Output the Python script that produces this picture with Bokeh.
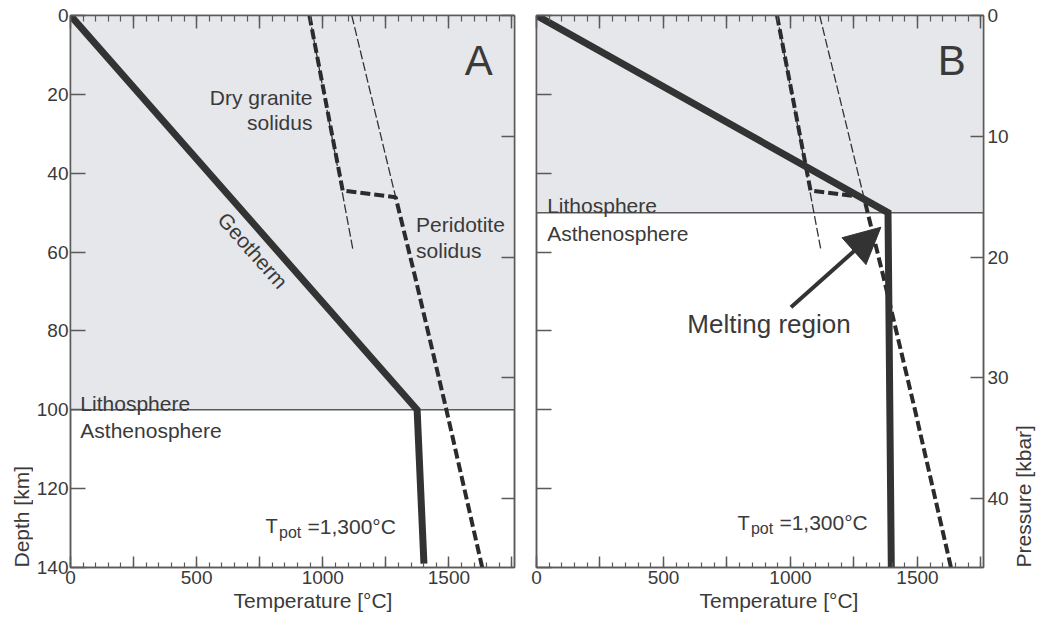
import math
from bokeh.plotting import figure
from bokeh.models import (Range1d, LinearAxis, FixedTicker, Label, Arrow, NormalHead, Title,
                          CustomLabelingPolicy)
from bokeh.layouts import row
from bokeh.embed import file_html
from bokeh.resources import INLINE

# ---------------- data ----------------
T_MAX = 1760          # temperature axis max [deg C]
Z_MAX = 140           # depth axis max [km]
P_MAX = 45.7          # pressure at Z_MAX [kbar]

temp_ticks = [0, 250, 500, 750, 1000, 1250, 1500, 1750]
temp_tick_labels = ["0", "", "500", "", "1000", "", "1500", ""]
temp_minor_ticks = list(range(0, 1751, 50))
depth_ticks = [0, 20, 40, 60, 80, 100, 120, 140]
pressure_ticks = [0, 10, 20, 30, 40]

lith_A = 100          # lithosphere base, panel A [km]
lith_B = 50           # lithosphere base, panel B [km]

geo_A_T = [0, 1374, 1401]
geo_A_z = [0, 100, 139]
geo_B_T = [0, 1384, 1397]
geo_B_z = [0, 50, 140]

# dry granite solidus -> step -> peridotite solidus (thick dashed)
solidus_T = [947, 1079, 1289, 1365, 1490, 1632]
solidus_z = [0, 44.4, 46.1, 66, 100, 140]
# thin continuations
granite_thin_T = [947, 1119]
granite_thin_z = [0, 59.2]
perid_thin_T = [1115, 1289]
perid_thin_z = [0, 46.1]

# melting-region arrow (tail -> tip)
arrow_T = [1002, 1356]
arrow_z = [74.0, 53.7]

# ---------------- style ----------------
FONT = "Liberation Sans"
DARK = "#333333"
AX = "#5a5a5a"
TXT = "#3a3a3a"
SHADE = "#e6e7eb"
H = 620
B_TOP = 15
B_BOT = 53

HIDE_ALL = "return new Set()"
KEEP_EVEN = """
const r = new Set()
for (const i of indices) { if (i % 2 == 0) r.add(i) }
return r
"""


def style_axis(ax, tick_in, minor_in, show_labels, standoff=4, policy=None):
    ax.axis_line_color = AX
    ax.axis_line_width = 1.5
    ax.major_tick_line_color = AX
    ax.major_tick_line_width = 1.5
    ax.major_tick_in = tick_in
    ax.major_tick_out = 0
    ax.minor_tick_in = minor_in
    ax.minor_tick_out = 0
    ax.minor_tick_line_color = AX if minor_in else None
    ax.minor_tick_line_width = 1.2
    ax.major_label_text_font = FONT
    ax.major_label_text_color = TXT
    if show_labels:
        ax.major_label_text_font_size = "19px"
        ax.major_label_standoff = standoff
        if policy:
            ax.major_label_policy = CustomLabelingPolicy(code=policy)
    else:
        ax.major_label_text_font_size = "0px"
        ax.major_label_standoff = 0
        ax.major_label_policy = CustomLabelingPolicy(code=HIDE_ALL)


def lab(p, x, y, text, size="21px", align="left", baseline="alphabetic",
        angle=0.0, xo=0, yo=0):
    p.add_layout(Label(x=x, y=y, text=text, text_font=FONT, text_font_size=size,
                       text_color=TXT, text_align=align, text_baseline=baseline,
                       angle=angle, x_offset=xo, y_offset=yo))


def make_panel(width, bl, br, geo_T, geo_z, lith, letter, letter_x, left_labels, right_labels):
    p = figure(width=width, height=H, x_range=Range1d(0, T_MAX), y_range=Range1d(Z_MAX, 0),
               output_backend="svg", toolbar_location=None,
               x_axis_location=None, y_axis_location=None,
               min_border_left=bl, min_border_right=br, min_border_top=B_TOP,
               min_border_bottom=B_BOT)
    p.extra_y_ranges = {"p": Range1d(P_MAX, 0)}
    p.grid.visible = False
    p.outline_line_color = AX
    p.outline_line_width = 1.5
    p.background_fill_color = "white"
    p.border_fill_color = "white"

    labels = {t: s for t, s in zip(temp_ticks, temp_tick_labels)}
    ax = LinearAxis(ticker=FixedTicker(ticks=temp_ticks, minor_ticks=temp_minor_ticks),
                    major_label_overrides=labels)
    style_axis(ax, 11, 5, True, 3, KEEP_EVEN)
    p.add_layout(ax, "below")
    p.add_layout(Title(text="Temperature [\u00b0C]", align="left", offset=163, standoff=0,
                       text_font=FONT, text_font_size="21px", text_font_style="normal",
                       text_color=TXT, vertical_align="bottom"), "below")

    ax = LinearAxis(ticker=FixedTicker(ticks=temp_ticks, minor_ticks=temp_minor_ticks))
    style_axis(ax, 13, 6, False)
    p.add_layout(ax, "above")

    ax = LinearAxis(ticker=FixedTicker(ticks=depth_ticks, minor_ticks=[]))
    style_axis(ax, 15, 0, left_labels, 2)
    p.add_layout(ax, "left")

    ax = LinearAxis(y_range_name="p", ticker=FixedTicker(ticks=pressure_ticks, minor_ticks=[]))
    style_axis(ax, 13, 0, right_labels, 4)
    p.add_layout(ax, "right")

    # lithosphere shading and boundary
    p.quad(left=[0], right=[T_MAX], top=[0], bottom=[lith], fill_color=SHADE, line_color=None)
    p.segment(x0=[0], x1=[T_MAX], y0=[lith], y1=[lith], line_color=AX, line_width=1.5)

    # solidi
    p.line(granite_thin_T, granite_thin_z, line_color=DARK, line_width=1.3, line_dash="9 3")
    p.line(perid_thin_T, perid_thin_z, line_color=DARK, line_width=1.3, line_dash="9 3")
    p.line(solidus_T, solidus_z, line_color="#2b2b2b", line_width=4, line_dash="10 4")

    # geotherm
    p.line(geo_T, geo_z, line_color=DARK, line_width=7, line_join="miter")

    lab(p, letter_x, 11.4, letter, size="42px", align="center")
    return p


def label_strip(width, x, text):
    # narrow strip holding a rotated axis title; its frame matches the panels' frame
    s = figure(width=width, height=H, x_range=Range1d(0, width), y_range=Range1d(Z_MAX, 0),
               output_backend="svg", toolbar_location=None,
               x_axis_location=None, y_axis_location=None,
               min_border_left=0, min_border_right=0, min_border_top=B_TOP,
               min_border_bottom=B_BOT)
    s.grid.visible = False
    s.outline_line_color = None
    s.add_layout(Label(x=x, y=Z_MAX, text=text, text_font=FONT, text_font_size="21px",
                       text_color=TXT, text_align="left", text_baseline="middle",
                       angle=math.pi / 2))
    return s


sL = label_strip(33, 21, "Depth [km]")
pA = make_panel(493, 34, 12, geo_A_T, geo_A_z, lith_A, "A", 1618, True, False)
pB = make_panel(485, 10, 28, geo_B_T, geo_B_z, lith_B, "B", 1635, False, True)
sR = label_strip(29, 12, "Pressure [kbar]")

# ---- panel A annotations ----
lab(pA, 959, 20.7, "Dry granite", align="right")
lab(pA, 959, 27.1, "solidus", align="right")
lab(pA, 1370, 52.9, "Peridotite")
lab(pA, 1370, 59.6, "solidus")
lab(pA, 723, 59.6, "Geotherm", size="21px", align="center", baseline="middle",
    angle=-math.atan2(393.3, 348.3))
lab(pA, 39, 98.5, "Lithosphere")
lab(pA, 39, 105.3, "Asthenosphere")
lab(pA, 773, 129.6, "T", size="20px")
lab(pA, 773, 129.6, "pot", size="16px", xo=13.5, yo=-6)
lab(pA, 773, 129.6, "=1,300\u00b0C", size="21px", xo=42)

# ---- panel B annotations ----
lab(pB, 42, 48.2, "Lithosphere")
lab(pB, 42, 55.3, "Asthenosphere")
lab(pB, 594, 78.2, "Melting region", size="26px")
lab(pB, 791, 128.6, "T", size="20px")
lab(pB, 791, 128.6, "pot", size="16px", xo=13.5, yo=-6)
lab(pB, 791, 128.6, "=1,300\u00b0C", size="21px", xo=42)

pB.add_layout(Arrow(end=NormalHead(size=36, fill_color=DARK, line_color=DARK),
                    x_start=arrow_T[0], y_start=arrow_z[0], x_end=arrow_T[1], y_end=arrow_z[1],
                    line_color=DARK, line_width=4))

layout = row(sL, pA, pB, sR)
open("out.html", "w").write(file_html(layout, INLINE))
